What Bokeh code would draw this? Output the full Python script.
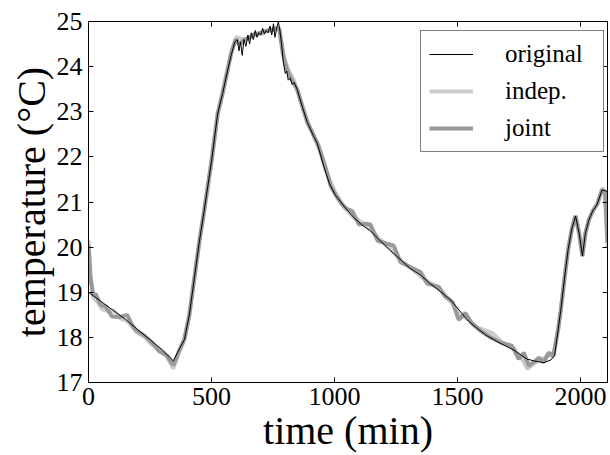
from bokeh.plotting import figure
from bokeh.models import Range1d, LinearAxis, FixedTicker, Legend, LegendItem, CustomJSTickFormatter
from bokeh.embed import file_html
from bokeh.resources import INLINE

# ---- data ----
orig_t = [0, 20, 50, 100, 150, 200, 250, 300, 345, 370, 390, 410, 430, 450, 470, 500, 525, 545, 565, 580,
          595, 605, 612, 618, 625, 632, 640, 648, 655, 662, 670, 678, 685, 692, 700, 708, 715, 722, 730, 738,
          745, 752, 758, 765, 772, 778, 785, 792, 800, 806, 812, 820, 828, 836, 848, 870, 890, 916, 930, 957,
          980, 1004, 1040, 1079, 1110, 1146, 1190, 1228, 1270, 1309, 1350, 1390, 1430, 1472, 1500, 1539, 1580,
          1621, 1670, 1729, 1760, 1783, 1810, 1851, 1880, 1895, 1910, 1920, 1935, 1950, 1965, 1980, 1995, 2008,
          2020, 2034, 2050, 2068, 2088, 2100, 2110]
orig_v = [19.00, 18.92, 18.80, 18.60, 18.40, 18.17, 17.95, 17.72, 17.48, 17.75, 17.95, 18.5, 19.3, 20.1, 20.8,
          21.9, 22.95, 23.4, 23.9, 24.25, 24.55, 24.6, 24.35, 24.55, 24.25, 24.6, 24.45, 24.7, 24.5, 24.75, 24.6,
          24.8, 24.65, 24.75, 24.7, 24.85, 24.72, 24.8, 24.75, 24.9, 24.7, 24.95, 24.65, 24.85, 25.0, 24.8, 24.5,
          24.1, 23.85, 23.9, 23.7, 23.75, 23.6, 23.65, 23.5, 23.1, 22.76, 22.45, 22.3, 21.78, 21.4, 21.15, 20.9,
          20.65, 20.5, 20.36, 20.12, 19.92, 19.72, 19.52, 19.38, 19.19, 19.02, 18.83, 18.65, 18.39, 18.2, 18.03,
          17.88, 17.72, 17.6, 17.52, 17.48, 17.44, 17.5, 17.6, 18.2, 18.6, 19.3, 19.95, 20.4, 20.69, 20.3, 19.8,
          20.3, 20.6, 20.8, 20.95, 21.27, 21.25, 21.23]

indep_t = [0, 8, 20, 35, 55, 80, 102, 130, 160, 198, 230, 255, 280, 310, 345, 370, 390, 410, 430, 450, 470, 500,
           525, 545, 565, 585, 600, 620, 645, 670, 700, 730, 760, 778, 795, 815, 835, 860, 890, 916, 940, 963,
           1004, 1040, 1079, 1110, 1146, 1180, 1228, 1270, 1309, 1350, 1390, 1430, 1472, 1505, 1539, 1580, 1641,
           1680, 1729, 1760, 1785, 1810, 1840, 1870, 1890, 1910, 1920, 1935, 1950, 1965, 1980, 1995, 2008, 2020,
           2034, 2050, 2068, 2088, 2100, 2110]
indep_v = [20.15, 19.4, 18.88, 18.8, 18.62, 18.58, 18.6, 18.42, 18.35, 18.1, 18.0, 17.85, 17.78, 17.65, 17.31,
           17.7, 17.95, 18.5, 19.3, 20.1, 20.8, 21.9, 22.95, 23.45, 23.95, 24.4, 24.65, 24.62, 24.6, 24.7, 24.72,
           24.8, 24.85, 24.8, 24.2, 23.9, 23.7, 23.3, 22.8, 22.45, 22.15, 21.72, 21.2, 20.88, 20.65, 20.55, 20.4,
           20.2, 19.95, 19.7, 19.55, 19.35, 19.2, 19.05, 18.82, 18.5, 18.42, 18.22, 18.10, 17.9, 17.75, 17.55, 17.3,
           17.42, 17.5, 17.6, 17.58, 18.2, 18.6, 19.3, 19.95, 20.4, 20.7, 20.3, 19.82, 20.3, 20.6, 20.8, 20.95,
           21.3, 21.25, 20.0]

joint_t = [0, 8, 20, 28, 50, 70, 96, 125, 157, 175, 191, 225, 259, 286, 320, 345, 370, 390, 410, 430, 450, 470,
           500, 525, 545, 565, 580, 598, 615, 635, 655, 675, 700, 725, 745, 760, 775, 790, 805, 825, 848, 870, 890,
           916, 935, 963, 985, 1004, 1030, 1050, 1072, 1100, 1125, 1146, 1176, 1210, 1241, 1268, 1310, 1350, 1377,
           1424, 1450, 1480, 1505, 1532, 1560, 1600, 1641, 1680, 1722, 1749, 1770, 1790, 1810, 1831, 1850, 1871,
           1890, 1910, 1920, 1935, 1950, 1965, 1980, 1995, 2008, 2020, 2034, 2050, 2068, 2088, 2100, 2110]
joint_v = [20.05, 19.3, 18.92, 18.97, 18.72, 18.68, 18.46, 18.45, 18.50, 18.30, 18.17, 18.05, 17.88, 17.70, 17.59,
           17.38, 17.72, 17.97, 18.5, 19.3, 20.1, 20.8, 21.9, 22.95, 23.4, 23.9, 24.3, 24.6, 24.5, 24.6, 24.65,
           24.72, 24.75, 24.8, 24.8, 24.85, 24.85, 24.3, 23.95, 23.72, 23.5, 23.1, 22.76, 22.47, 22.25, 21.78,
           21.35, 21.16, 20.95, 20.85, 20.80, 20.5, 20.52, 20.50, 20.14, 20.08, 20.03, 19.67, 19.55, 19.45, 19.19,
           19.12, 18.9, 18.78, 18.39, 18.54, 18.3, 18.12, 17.98, 17.88, 17.81, 17.52, 17.66, 17.37, 17.45, 17.55,
           17.45, 17.66, 17.6, 18.2, 18.6, 19.3, 19.95, 20.4, 20.69, 20.3, 19.8, 20.3, 20.6, 20.8, 20.95, 21.27,
           21.2, 20.1]

x_ticks = [0, 500, 1000, 1500, 2000]
y_ticks = [17, 18, 19, 20, 21, 22, 23, 24, 25]
labels = ["original", "indep.", "joint"]

FONT = "Liberation Serif"

p = figure(width=610, height=455, output_backend="svg", toolbar_location=None,
           x_range=Range1d(0, 2110), y_range=Range1d(17, 25),
           min_border_left=88, min_border_right=3, min_border_top=21, min_border_bottom=68)
p.background_fill_color = "white"
p.border_fill_color = "white"
p.grid.visible = False
p.outline_line_color = "black"
p.outline_line_width = 1

r_indep = p.line(indep_t, indep_v, line_color="#cccccc", line_width=4)
r_joint = p.line(joint_t, joint_v, line_color="#999999", line_width=4)
r_orig = p.line(orig_t, orig_v, line_color="black", line_width=1)

def style_axis(ax, ticks, show_labels=True):
    ax.ticker = FixedTicker(ticks=ticks)
    ax.major_tick_in = 5
    ax.major_tick_out = 0
    ax.minor_tick_line_color = None
    ax.axis_line_color = "black"
    ax.major_tick_line_color = "black"
    ax.major_label_text_font = FONT
    ax.major_label_text_font_size = "26px"
    ax.major_label_text_color = "black"
    ax.axis_label_text_font = FONT
    ax.axis_label_text_font_size = "40px"
    ax.axis_label_text_font_style = "normal"
    ax.axis_label_text_color = "black"
    if not show_labels:
        ax.formatter = CustomJSTickFormatter(code="return '';")
        ax.major_label_standoff = 0

style_axis(p.xaxis[0], x_ticks)
style_axis(p.yaxis[0], y_ticks)
p.xaxis[0].axis_label = "time (min)"
p.yaxis[0].axis_label = "temperature (°C)"
p.xaxis[0].major_label_standoff = 5
p.yaxis[0].major_label_standoff = 6
p.xaxis[0].axis_label_standoff = 0
p.yaxis[0].axis_label_standoff = 0

top_ax = LinearAxis()
style_axis(top_ax, x_ticks, show_labels=False)
p.add_layout(top_ax, "above")
right_ax = LinearAxis()
style_axis(right_ax, y_ticks, show_labels=False)
p.add_layout(right_ax, "right")

legend = Legend(items=[LegendItem(label=labels[0], renderers=[r_orig]),
                       LegendItem(label=labels[1], renderers=[r_indep]),
                       LegendItem(label=labels[2], renderers=[r_joint])],
                location=(332, 230))
legend.label_text_font = FONT
legend.label_text_font_size = "25px"
legend.label_text_color = "black"
legend.padding = 8
legend.margin = 0
legend.spacing = 7
legend.glyph_height = 30
legend.label_height = 30
legend.glyph_width = 44
legend.label_standoff = 32
legend.label_width = 90
legend.border_line_color = "black"
legend.border_line_width = 1
legend.background_fill_alpha = 1
p.add_layout(legend, "center")

open("out.html", "w").write(file_html(p, INLINE))
